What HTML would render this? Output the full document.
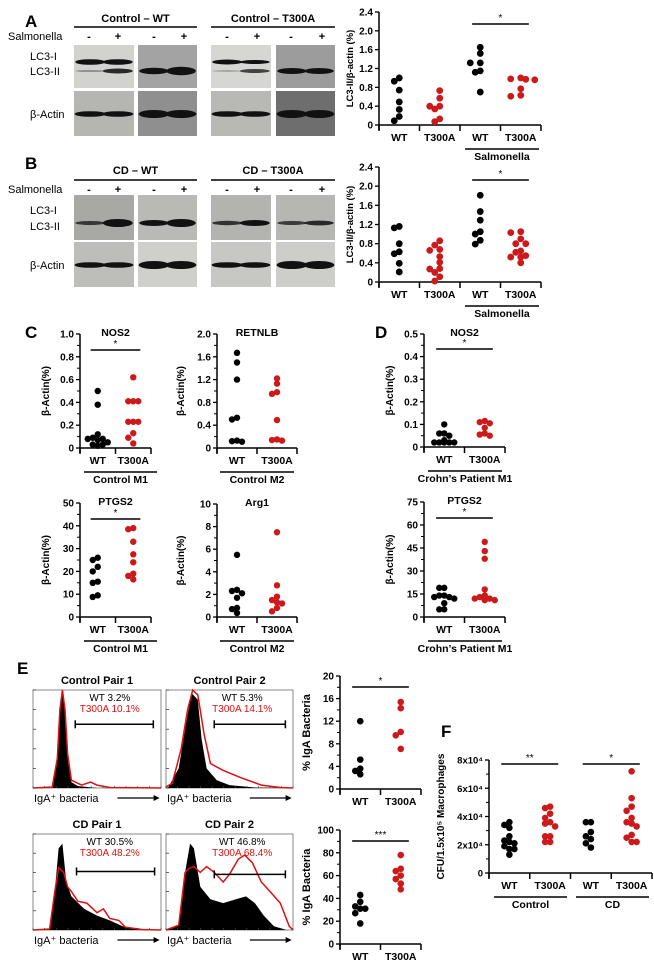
<!DOCTYPE html>
<html><head><meta charset="utf-8">
<style>
html,body{margin:0;padding:0;background:#fff;}
svg{display:block;font-family:"Liberation Sans",sans-serif;}
</style></head>
<body>
<svg id="fig" width="654" height="963" viewBox="0 0 654 963" xmlns="http://www.w3.org/2000/svg">
<g id="static"></g>
</svg>
<script>
// ---------- chart data ----------
const catsA = ["WT","T300A","WT","T300A"];
const aWT = [1.0,0.93,0.74,0.49,0.33,0.18,0.09];
const aT300A = [0.73,0.57,0.40,0.40,0.34,0.13,0.07];
const aSalWT = [1.65,1.52,1.32,1.32,1.15,1.12,0.70];
const aSalT300A = [1.0,0.98,0.97,0.96,0.77,0.63,0.61];
const bWT = [1.16,1.13,0.80,0.63,0.59,0.39,0.21];
const bT300A = [0.86,0.77,0.68,0.66,0.53,0.41,0.28,0.27,0.20,0.11,0.02];
const bSalWT = [1.81,1.47,1.29,1.05,1.00,0.87,0.79];
const bSalT300A = [1.05,1.03,0.90,0.80,0.80,0.65,0.62,0.55,0.52,0.52,0.40];
const ticksLC3 = ["0","0.4","0.8","1.2","1.6","2.0","2.4"];
const cats2 = ["WT","T300A"];
const nos2WT = [0.50,0.38,0.12,0.09,0.08,0.08,0.07,0.05,0.03,0.03,0.02];
const nos2T300A = [0.62,0.41,0.41,0.41,0.23,0.23,0.23,0.13,0.09,0.04];
const ticksNOS2 = ["0","0.2","0.4","0.6","0.8","1.0"];
const retnlbWT = [1.67,1.50,1.20,0.53,0.50,0.13,0.12,0.11];
const retnlbT300A = [1.22,1.13,0.98,0.95,0.49,0.15,0.14,0.13];
const ticksRETNLB = ["0","0.4","0.8","1.2","1.6","2.0"];
const dNos2WT = [0.10,0.06,0.06,0.05,0.03,0.02,0.02,0.02,0.02,0.02];
const dNos2T300A = [0.115,0.11,0.105,0.085,0.06,0.055,0.05];
const ticksDNOS2 = ["0","0.1","0.2","0.3","0.4","0.5"];
const ptgsWT = [26,25,22,20,15.5,15,9.5,8.8];
const ptgsT300A = [39,38.5,33,27.5,24,19,18,16.5];
const ticksPTGS = ["0","10","20","30","40","50"];
const arg1WT = [5.5,2.4,2.3,2.1,1.7,0.8,0.7,0.35];
const arg1T300A = [7.5,2.8,1.8,1.5,1.3,1.2,0.8,0.5];
const ticksArg1 = ["0","2","4","6","8","10"];
const dPtgsWT = [19,19,14,14,13,13,12,9,5,5];
const dPtgsT300A = [49,43,38,18,14,13,12,12,11,11];
const ticksDPTGS = ["0","15","30","45","60","75"];
const e1WT = [12,5.2,3.6,3.2,2.6];
const e1T300A = [15.4,14.3,10.1,9.5,7.1];
const ticksE1 = ["0","4","8","12","16","20"];
const e2WT = [43,37,33,31,31,27,18];
const e2T300A = [78,66,64,60,57,53,48];
const ticksE2 = ["0","20","40","60","80","100"];
const catsF = ["WT","T300A","WT","T300A"];
const fCtrlWT = [3.6,3.4,3.2,2.6,2.3,2.2,2.1,1.9,1.7,1.7,1.3];
const fCtrlT300A = [4.7,4.6,4.2,3.9,3.6,3.5,3.3,2.6,2.6,2.2,2.2];
const fCdWT = [3.6,3.6,2.9,2.6,2.4,2.1,1.8];
const fCdT300A = [7.2,5.3,4.7,4.4,3.9,3.6,3.5,3.3,2.7,2.5,2.2,2.2];
const ticksF = ["0","2x10⁴","4x10⁴","6x10⁴","8x10⁴"];

const NS="http://www.w3.org/2000/svg";
const root=document.getElementById('static');
function mk(tag,parent,attrs){const e=document.createElementNS(NS,tag);for(const k in attrs)e.setAttribute(k,attrs[k]);(parent||root).appendChild(e);return e;}
function txt(parent,x,y,s,size,opts){opts=opts||{};const t=mk('text',parent,{x:x,y:y,'font-size':size,'text-anchor':opts.anchor||'middle','font-weight':opts.bold===false?'normal':'bold',fill:opts.fill||'#000'});if(opts.rot)t.setAttribute('transform','rotate(-90 '+x+' '+y+')');t.textContent=s;return t;}
function line(parent,x1,y1,x2,y2,w,c){return mk('line',parent,{x1:x1,y1:y1,x2:x2,y2:y2,stroke:c||'#000','stroke-width':w||1.3});}

function chart(cfg){
  const g=mk('g',root,{});
  
  
  const n=cfg.series.length, maxV=cfg.max;
  const yS=v=>cfg.yZ-(v/maxV)*(cfg.yZ-cfg.yT);
  const xT=i=>cfg.x0+i*(cfg.x1-cfg.x0)/n;
  line(g,cfg.x0,cfg.yT,cfg.x0,cfg.yZ+5,1.5);
  line(g,cfg.x0,cfg.yZ,cfg.x1,cfg.yZ,1.5);
  for(let i=0;i<=n;i++) line(g,xT(i),cfg.yZ,xT(i),cfg.yZ+6,1.5);
  const nt=cfg.ticks.length-1;
  for(let i=0;i<=nt;i++){
    const v=i*maxV/nt, y=yS(v);
    line(g,cfg.x0-4,y,cfg.x0,y,1.3);
    const t=txt(g,cfg.x0-6,y+3.5,cfg.ticks[i],cfg.tfs||10,{anchor:'end'});
    
    
    if(i<nt){ for(let m=1;m<(cfg.minor||2);m++){const ym=yS(v+m*maxV/nt/(cfg.minor||2));line(g,cfg.x0-3,ym,cfg.x0,ym,1);} }
  }
  for(let i=0;i<n;i++){
    const t=txt(g,(xT(i)+xT(i+1))/2,cfg.yZ+16,cfg.cats[i],10.5);
    
    
  }
  const yt=txt(g,cfg.ytx,(cfg.yT+cfg.yZ)/2,cfg.ytitle,cfg.ytfs||10,{rot:true});
  
  
  const r=cfg.r||3.4;
  cfg.series.forEach((vals,si)=>{
    const cx=(xT(si)+xT(si+1))/2, placed=[];
    vals.forEach(v=>{
      const y=yS(v);
      const cands=[0,-5,5,-10,10,-14,14];
      let ox=0;
      for(const c of cands){ if(placed.every(p=>Math.hypot(p[0]-c,p[1]-y)>=1.5*r)){ox=c;break;} }
      placed.push([ox,y]);
      const d=mk('circle',g,{cx:cx+ox,cy:y,r:r,fill:si%2===0?'#000':'#cc1a1a'});
      
      
    });
  });
  (cfg.sig||[]).forEach(s=>{
    const xa=xT(s[0])+ (xT(1)-xT(0))*0.3, xb=xT(s[1]+1)-(xT(1)-xT(0))*0.3;
    line(g,xa,s[2],xb,s[2],1.4);
    const st=txt(g,(xa+xb)/2,s[2]-3,s[3],10,{bold:false});
    
    
  });
  (cfg.groups||[]).forEach(gr=>{
    line(g,gr[0],cfg.yZ+24,gr[1],cfg.yZ+24,1.4);
    const gt=txt(g,(gr[0]+gr[1])/2,cfg.yZ+35,gr[2],10.5);
    
    
  });
  if(cfg.title){const tt=txt(g,(cfg.x0+cfg.x1)/2,cfg.yT+2,cfg.title,10.5);}
  return g;
}

chart({name:'chart-a-lc3',x0:379,x1:541,yT:12,yZ:125,max:2.4,ticks:ticksLC3,cats:catsA,series:[aWT,aT300A,aSalWT,aSalT300A],ytitle:'LC3-II/β-actin (%)',ytx:353,ytfs:9.5,minor:1,sig:[[2,3,24,'*']],groups:[[465,539,'Salmonella']]});
chart({name:'chart-b-lc3',x0:379,x1:541,yT:167,yZ:282,max:2.4,ticks:ticksLC3,cats:catsA,series:[bWT,bT300A,bSalWT,bSalT300A],ytitle:'LC3-II/β-actin (%)',ytx:353,ytfs:9.5,minor:1,sig:[[2,3,180,'*']],groups:[[465,539,'Salmonella']]});
chart({name:'chart-c-nos2',x0:80,x1:151,yT:334,yZ:448,max:1.0,ticks:ticksNOS2,cats:cats2,series:[nos2WT,nos2T300A],ytitle:'β-Actin(%)',ytx:49,title:'NOS2',sig:[[0,1,350,'*']],groups:[[84,157,'Control M1']],r:3.2});
chart({name:'chart-c-retnlb',x0:217,x1:297,yT:334,yZ:448,max:2.0,ticks:ticksRETNLB,cats:cats2,series:[retnlbWT,retnlbT300A],ytitle:'β-Actin(%)',ytx:184,title:'RETNLB',groups:[[220,294,'Control M2']],r:3.2});
chart({name:'chart-d-nos2',x0:424,x1:505,yT:334,yZ:447,max:0.5,ticks:ticksDNOS2,cats:cats2,series:[dNos2WT,dNos2T300A],ytitle:'β-Actin(%)',ytx:393,title:'NOS2',sig:[[0,1,349,'*']],groups:[[428,502,'Crohn’s Patient M1']],r:3.2});
chart({name:'chart-c-ptgs2',x0:80,x1:151,yT:503,yZ:617,max:50,ticks:ticksPTGS,cats:cats2,series:[ptgsWT,ptgsT300A],ytitle:'β-Actin(%)',ytx:49,title:'PTGS2',sig:[[0,1,519,'*']],groups:[[84,157,'Control M1']],r:3.2});
chart({name:'chart-c-arg1',x0:217,x1:297,yT:504,yZ:617,max:10,ticks:ticksArg1,cats:cats2,series:[arg1WT,arg1T300A],ytitle:'β-Actin(%)',ytx:184,title:'Arg1',groups:[[220,294,'Control M2']],r:3.2});
chart({name:'chart-d-ptgs2',x0:424,x1:505,yT:502,yZ:617,max:75,ticks:ticksDPTGS,cats:cats2,series:[dPtgsWT,dPtgsT300A],ytitle:'β-Actin(%)',ytx:393,title:'PTGS2',sig:[[0,1,518,'*']],groups:[[428,502,'Crohn’s Patient M1']],r:3.2});
chart({name:'chart-e-control-iga',x0:340,x1:421,yT:676,yZ:789,max:20,ticks:ticksE1,cats:cats2,series:[e1WT,e1T300A],ytitle:'% IgA Bacteria',ytx:310,ytfs:11,sig:[[0,1,687,'*']],r:3.3});
chart({name:'chart-e-cd-iga',x0:340,x1:421,yT:830,yZ:944,max:100,ticks:ticksE2,cats:cats2,series:[e2WT,e2T300A],ytitle:'% IgA Bacteria',ytx:310,ytfs:11,sig:[[0,1,841,'***']],r:3.3});
chart({name:'chart-f-cfu',x0:489,x1:652,yT:760,yZ:873,max:8,ticks:ticksF,cats:catsF,series:[fCtrlWT,fCtrlT300A,fCdWT,fCdT300A],ytitle:'CFU/1.5x10⁵ Macrophages',ytx:444,tfs:9.5,sig:[[0,1,764,'**'],[2,3,764,'*']],groups:[[494,567,'Control'],[576,649,'CD']],r:3.3});

[['A',25,27],['B',25,169],['C',25,338],['D',375,338],['E',17,674],['F',441,737]].forEach(p=>{
  const t=txt(root,p[1],p[2],p[0],17,{anchor:'start'});
  
  
});

function blots(yH,yLine,ySal,y1,y2,y3,y4,labels,lc3iBands,lc3iiY,lc3iY,actY,sizesII,sizesI,darkLC,darkAct){
  const g=mk('g',root,{});
  
  
  const hdr=[[74,197,labels[0]],[211,335,labels[1]]];
  hdr.forEach(h=>{const t=txt(g,(h[0]+h[1])/2,yH,h[2],11);line(g,h[0],yLine,h[1],yLine,1.5);});
  const sl=txt(g,8,ySal,'Salmonella',11,{anchor:'start',bold:false});
  
  
  [89,118,154,184,227,257,291,322].forEach((x,i)=>{const t=txt(g,x,ySal,i%2?'+':'-',11);});
  const cols=[[74,134],[138,197],[211,271],[276,335]];
  cols.forEach((c,ci)=>{
    mk('rect',g,{x:c[0],y:y1,width:c[1]-c[0],height:y2-y1,fill:darkLC[ci]});
    mk('rect',g,{x:c[0],y:y3,width:c[1]-c[0],height:y4-y3,fill:darkAct[ci]});
    const w=(c[1]-c[0]);
    [0,1].forEach(k=>{
      const cx=c[0]+w*(k?0.73:0.27);
      const sII=sizesII[ci*2+k], sI=sizesI[ci*2+k];
      if(sII>0) mk('ellipse',g,{cx:cx,cy:lc3iiY,rx:w*0.25,ry:sII,fill:'#111','fill-opacity':Math.min(1,0.25+sII/4)});
      if(sI>0) mk('ellipse',g,{cx:cx,cy:lc3iY,rx:w*0.25,ry:sI,fill:'#111'});
      mk('ellipse',g,{cx:cx,cy:actY,rx:w*0.26,ry:ci%2?4:2.8,fill:'#111'});
    });
  });
  [['LC3-I',lc3iBands[0]],['LC3-II',lc3iBands[1]],['β-Actin',actY+4]].forEach(l=>{const t=txt(g,30,l[1],l[0],11,{anchor:'start',bold:false});});
}
blots(22,27,40,45,88,91,136,['Control – WT','Control – T300A'],[60,75],71,62,114,[0.8,2.5,3.2,4.2,0.6,2,3,3],[2.8,2.8,0,0,2.5,2,0,0],['#d2d3cf','#a3a3a3','#d6d6d2','#9c9c9c'],['#b5b5b2','#8f8f8f','#b8b8b5','#6e6e6e']);
blots(174,180,193,195,240,242,287,['CD – WT','CD – T300A'],[214,230],223,212,265,[2,4,3,4,2.2,3,2,2.4],[0,0,0,0,0,0,0,0],['#a8a8a4','#b9b9b6','#b3b3b0','#b6b6b3'],['#bdbdb9','#cfcfcc','#c7c7c4','#cdcdca']);

function hist(x0,x1,y0,y1,title,wt,t3,blk,red,gate){
  const g=mk('g',root,{});
  
  
  const W=x1-x0,H=y1-y0;
  mk('rect',g,{x:x0,y:y0,width:W,height:H,fill:'#fff',stroke:'#888','stroke-width':1});
  const P=pts=>pts.map(p=>(x0+p[0]*W).toFixed(1)+','+(y1-p[1]*H).toFixed(1)).join(' ');
  mk('polygon',g,{points:P(blk),fill:'#000'});
  mk('polyline',g,{points:P(red),fill:'none',stroke:'#e01010','stroke-width':1.5});
  for(let i=0;i<6;i++){line(g,x0,y0+i*H/5,x0+3,y0+i*H/5,0.8,'#444');}
  for(let i=0;i<12;i++){line(g,x0+i*W/11,y1,x0+i*W/11,y1-2,0.7,'#444');}
  const tt=txt(g,(x0+x1)/2,y0-6,title,11);
  const a=txt(g,x0+W*0.6,y0+11,wt,10,{bold:false});
  const b=txt(g,x0+W*0.6,y0+22,t3,10,{bold:false,fill:'#e01010'});
  const gx0=x0+gate[0]*W,gx1=x0+gate[1]*W,gy=y0+gate[2]*H;
  line(g,gx0,gy,gx1,gy,1.5);line(g,gx0,gy-4,gx0,gy+4,1.5);line(g,gx1,gy-4,gx1,gy+4,1.5);
  const il=txt(g,x0+1,y1+14,'IgA⁺ bacteria',11,{anchor:'start',bold:false});
  
  line(g,x0+W*0.66,y1+10,x0+W*0.95,y1+10,1.3);
  mk('polygon',g,{points:(x0+W*0.95+5)+','+(y1+10)+' '+(x0+W*0.95-1)+','+(y1+7)+' '+(x0+W*0.95-1)+','+(y1+13),fill:'#000'});
}
const pk1=[[0,0],[0.15,0],[0.19,0.3],[0.21,0.8],[0.23,0.99],[0.25,0.8],[0.27,0.3],[0.3,0.06],[0.35,0.02],[0.5,0],[1,0]];
hist(33,161,690,788,'Control Pair 1','WT  3.2%','T300A 10.1%',pk1,[[0,0],[0.15,0.01],[0.19,0.3],[0.21,0.8],[0.23,1.0],[0.25,0.8],[0.27,0.35],[0.3,0.08],[0.38,0.03],[0.45,0.06],[0.5,0.03],[0.6,0.005],[1,0]],[0.33,0.94,0.35]);
hist(166,293,690,788,'Control Pair 2','WT  5.3%','T300A 14.1%',[[0,0],[0.02,0.01],[0.1,0.2],[0.15,0.6],[0.2,0.97],[0.25,0.9],[0.28,0.5],[0.32,0.2],[0.4,0.08],[0.5,0.03],[0.7,0.005],[1,0]],[[0,0.01],[0.05,0.05],[0.12,0.4],[0.17,0.8],[0.21,1.0],[0.25,0.95],[0.3,0.55],[0.35,0.25],[0.45,0.18],[0.6,0.1],[0.75,0.03],[0.9,0.005],[1,0]],[0.38,0.94,0.35]);
hist(33,161,834,930,'CD Pair 1','WT  30.5%','T300A 48.2%',[[0,0],[0.13,0.01],[0.17,0.4],[0.2,0.85],[0.23,0.9],[0.26,0.5],[0.3,0.35],[0.4,0.22],[0.5,0.15],[0.6,0.1],[0.7,0.04],[0.8,0.01],[1,0]],[[0,0],[0.13,0.01],[0.17,0.4],[0.2,0.65],[0.24,0.6],[0.27,0.45],[0.3,0.4],[0.35,0.3],[0.42,0.28],[0.5,0.18],[0.55,0.22],[0.6,0.12],[0.67,0.1],[0.72,0.03],[0.85,0.005],[1,0]],[0.34,0.95,0.39]);
hist(166,293,834,930,'CD Pair 2','WT 46.8%','T300A 68.4%',[[0,0],[0.1,0.05],[0.15,0.6],[0.19,0.9],[0.22,0.85],[0.27,0.45],[0.35,0.32],[0.45,0.28],[0.55,0.32],[0.63,0.35],[0.7,0.28],[0.77,0.15],[0.85,0.04],[0.95,0],[1,0]],[[0,0],[0.1,0.05],[0.15,0.6],[0.18,0.64],[0.22,0.66],[0.27,0.6],[0.32,0.66],[0.38,0.6],[0.45,0.5],[0.5,0.58],[0.57,0.74],[0.62,0.78],[0.68,0.7],[0.75,0.5],[0.82,0.4],[0.9,0.28],[0.97,0.04],[1,0]],[0.38,0.94,0.42]);
</script>
</body></html>
